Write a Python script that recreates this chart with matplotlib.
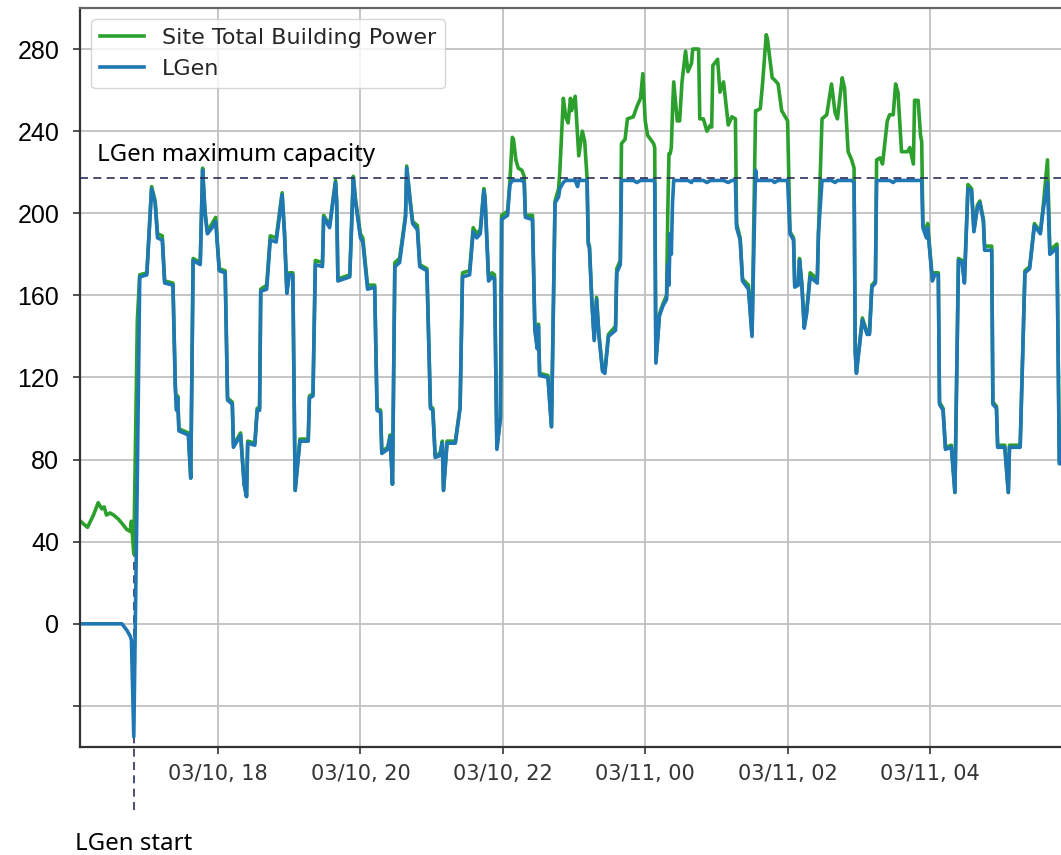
import pandas as pd
import numpy as np
import matplotlib
matplotlib.use("Agg")
import matplotlib.pyplot as plt
import matplotlib.dates as mdates

# clock times (03/10 evening -> 03/11 morning)
times = [
    "16:04", "16:10", "16:15", "16:19", "16:22", "16:24", "16:26", "16:29", "16:32", "16:36",
    "16:39", "16:43", "16:46", "16:47", "16:49", "16:52", "16:54", "17:00", "17:04", "17:07",
    "17:09", "17:13", "17:15", "17:22", "17:24", "17:25", "17:26", "17:27", "17:35", "17:37",
    "17:39", "17:45", "17:47", "17:49", "17:51", "17:55", "17:58", "18:01", "18:06", "18:08",
    "18:12", "18:13", "18:19", "18:22", "18:24", "18:25", "18:31", "18:33", "18:35", "18:36",
    "18:41", "18:44", "18:49", "18:54", "18:56", "18:58", "19:00", "19:03", "19:05", "19:09",
    "19:16", "19:17", "19:20", "19:22", "19:28", "19:29", "19:32", "19:34", "19:39", "19:40",
    "19:41", "19:51", "19:54", "19:56", "20:00", "20:02", "20:06", "20:12", "20:14", "20:17",
    "20:18", "20:23", "20:25", "20:27", "20:29", "20:33", "20:38", "20:39", "20:42", "20:44",
    "20:48", "20:50", "20:56", "20:59", "21:01", "21:03", "21:07", "21:09", "21:10", "21:13",
    "21:20", "21:24", "21:26", "21:32", "21:35", "21:38", "21:41", "21:44", "21:45", "21:48",
    "21:51", "21:53", "21:55", "21:58", "21:59", "22:04", "22:06", "22:08", "22:09", "22:11",
    "22:13", "22:16", "22:18", "22:19", "22:25", "22:27", "22:29", "22:30", "22:31", "22:38",
    "22:41", "22:44", "22:47", "22:48", "22:51", "22:53", "22:55", "22:57", "22:58", "23:01",
    "23:03", "23:04", "23:07", "23:09", "23:11", "23:12", "23:13", "23:15", "23:17", "23:19",
    "23:21", "23:24", "23:26", "23:29", "23:35", "23:36", "23:39", "23:40", "23:43", "23:45",
    "23:50", "23:53", "23:56", "23:58", "00:00", "00:02", "00:07", "00:08", "00:09", "00:12",
    "00:15", "00:18", "00:19", "00:20", "00:21", "00:22", "00:23", "00:24", "00:27", "00:29",
    "00:31", "00:34", "00:36", "00:39", "00:40", "00:45", "00:46", "00:49", "00:52", "00:55",
    "00:56", "00:57", "01:01", "01:03", "01:06", "01:10", "01:13", "01:16", "01:17", "01:20",
    "01:22", "01:27", "01:30", "01:33", "01:34", "01:37", "01:39", "01:42", "01:43", "01:47",
    "01:49", "01:52", "01:55", "02:00", "02:02", "02:05", "02:06", "02:09", "02:10", "02:12",
    "02:14", "02:16", "02:19", "02:25", "02:26", "02:29", "02:33", "02:37", "02:40", "02:42",
    "02:46", "02:48", "02:51", "02:54", "02:56", "02:57", "02:58", "03:03", "03:07", "03:09",
    "03:11", "03:14", "03:15", "03:18", "03:20", "03:24", "03:26", "03:29", "03:31", "03:33",
    "03:36", "03:41", "03:43", "03:46", "03:47", "03:50", "03:52", "03:53", "03:54", "03:57",
    "03:58", "04:02", "04:04", "04:07", "04:08", "04:11", "04:13", "04:18", "04:21", "04:24",
    "04:27", "04:29", "04:32", "04:35", "04:37", "04:40", "04:42", "04:45", "04:46", "04:52",
    "04:53", "04:56", "04:57", "05:03", "05:06", "05:07", "05:16", "05:17", "05:20", "05:24",
    "05:28", "05:33", "05:35", "05:39", "05:41", "05:47", "05:49", "05:52",
]

lgen = [
    0, 0, 0, 0, 0, 0, 0, 0, 0, 0,
    0, -3, -6, -8, -55, 73, 169, 170, 212, 205,
    188, 187, 166, 165, 115, 104, 110, 94, 92, 71,
    177, 175, 221, 200, 190, 193, 196, 172, 171, 109,
    107, 86, 92, 68, 62, 88, 87, 104, 104, 162,
    163, 187, 186, 209, 190, 161, 170, 170, 65, 89,
    89, 110, 111, 175, 174, 198, 195, 193, 215, 205,
    167, 169, 217, 205, 188, 186, 163, 164, 104, 103,
    83, 85, 91, 68, 174, 176, 198, 222, 205, 195,
    192, 174, 172, 105, 104, 81, 82, 88, 65, 88,
    88, 105, 169, 170, 191, 188, 190, 211, 207, 167,
    169, 168, 85, 100, 197, 199, 214, 216, 216, 216,
    216, 216, 215, 198, 197, 143, 134, 145, 121, 120,
    96, 205, 208, 212, 215, 216, 216, 216, 216, 216,
    213, 216, 216, 216, 216, 185, 183, 157, 138, 158,
    140, 123, 122, 140, 143, 171, 175, 216, 216, 216,
    216, 215, 216, 216, 216, 216, 216, 215, 127, 150,
    155, 158, 175, 165, 190, 180, 205, 216, 216, 216,
    216, 216, 216, 215, 216, 216, 216, 216, 215, 216,
    216, 216, 216, 216, 216, 215, 216, 216, 193, 187,
    167, 163, 140, 221, 216, 216, 216, 216, 216, 216,
    215, 216, 216, 216, 190, 187, 164, 165, 177, 165,
    144, 151, 169, 166, 190, 216, 216, 216, 215, 216,
    216, 216, 216, 216, 215, 132, 122, 148, 141, 141,
    164, 166, 216, 216, 216, 216, 216, 215, 216, 216,
    216, 216, 216, 216, 216, 216, 216, 216, 193, 188,
    193, 167, 170, 170, 107, 104, 85, 86, 64, 177,
    176, 166, 212, 211, 191, 203, 205, 196, 182, 182,
    107, 105, 86, 86, 64, 86, 86, 107, 171, 173,
    194, 190, 200, 215, 180, 183, 78, 78,
]

site_total = [
    50, 47, 53, 59, 56, 57, 53, 54, 53, 51,
    49, 46, 45, 50, 34, 148, 170, 171, 213, 206,
    190, 189, 167, 166, 116, 105, 111, 95, 93, 71,
    178, 176, 222, 201, 191, 195, 198, 173, 172, 110,
    108, 87, 93, 68, 62, 89, 88, 105, 105, 163,
    165, 189, 188, 210, 191, 162, 171, 171, 65, 90,
    90, 111, 112, 177, 176, 199, 196, 194, 216, 206,
    168, 170, 218, 206, 190, 188, 165, 165, 105, 104,
    84, 86, 92, 68, 176, 178, 199, 223, 206, 196,
    194, 175, 173, 106, 105, 82, 83, 89, 65, 89,
    89, 106, 171, 172, 193, 190, 192, 212, 208, 169,
    171, 170, 86, 101, 199, 201, 216, 237, 236, 226,
    222, 221, 218, 199, 199, 144, 135, 146, 122, 121,
    96, 206, 212, 220, 256, 247, 244, 256, 250, 257,
    238, 228, 240, 235, 217, 186, 184, 158, 139, 159,
    141, 124, 123, 141, 145, 173, 177, 234, 236, 246,
    247, 252, 256, 268, 245, 238, 234, 232, 128, 151,
    156, 160, 200, 229, 229, 232, 250, 264, 245, 245,
    264, 279, 269, 273, 280, 280, 246, 246, 240, 243,
    242, 272, 275, 259, 264, 243, 247, 246, 195, 188,
    168, 165, 141, 250, 250, 251, 264, 287, 285, 266,
    265, 263, 250, 245, 191, 188, 165, 166, 178, 166,
    145, 152, 171, 168, 191, 246, 248, 263, 249, 246,
    266, 261, 230, 226, 222, 133, 123, 149, 142, 142,
    165, 167, 226, 227, 224, 245, 248, 248, 263, 259,
    230, 230, 232, 224, 255, 255, 238, 235, 195, 190,
    195, 168, 171, 171, 108, 105, 86, 87, 64, 178,
    177, 167, 214, 212, 192, 204, 206, 197, 184, 184,
    108, 106, 87, 87, 64, 87, 87, 108, 172, 174,
    195, 191, 201, 226, 182, 185, 79, 79,
]

lgen_capacity = 217
lgen_start = "16:49"
yticks = [-40, 0, 40, 80, 120, 160, 200, 240, 280]
ytick_labels = ["", "0", "40", "80", "120", "160", "200", "240", "280"]


def to_dt(s):
    t = pd.Timestamp("2019-03-10 " + s)
    if t.hour < 12:
        t = t + pd.Timedelta(days=1)
    return t


t = [to_dt(s) for s in times]

fig = plt.figure(figsize=(10.61, 8.55), dpi=100)
ax = fig.add_axes([80 / 1061, 108 / 855, 981 / 1061, 739 / 855])

ax.plot(t, site_total, color="#2ca02c", lw=2.6, label="Site Total Building Power")
ax.plot(t, lgen, color="#1f77b4", lw=2.6, label="LGen")

ax.set_xlim(to_dt("16:03") + pd.Timedelta(seconds=40), to_dt("05:50") + pd.Timedelta(seconds=24))
ax.set_ylim(-60, 300)

ax.axhline(lgen_capacity, color="#2b2d5e", lw=1.2, ls=(0, (4.8, 3.2)), zorder=3)
ax.axvline(to_dt(lgen_start), ymin=-0.085, ymax=0.298, color="#2b2d5e", lw=1.2,
           ls=(0, (4.8, 3.2)), clip_on=False, zorder=1)

ax.text(17 / 981, 225.6, "LGen maximum capacity", family=["Noto Sans", "DejaVu Sans"],
        fontsize=17.3, color="black", va="baseline", transform=ax.get_yaxis_transform())
fig.text(75 / 1061, 5 / 855, "LGen start", family=["Noto Sans", "DejaVu Sans"],
         fontsize=17.3, color="black", va="baseline")

ax.set_yticks(yticks)
ax.set_yticklabels(ytick_labels, family="Liberation Sans", fontsize=18, color="black")
ax.xaxis.set_major_locator(mdates.HourLocator(byhour=range(0, 24, 2)))
ax.xaxis.set_major_formatter(mdates.DateFormatter("%m/%d, %H"))
for lab in ax.get_xticklabels():
    lab.set_fontsize(15)
    lab.set_color("#333333")
ax.tick_params(axis="y", length=5, width=1.2, pad=10, color="#333333")
ax.tick_params(axis="x", length=5, width=1.2, pad=7, color="#333333")

ax.grid(True, color="#c0c0c0", lw=1.3)
ax.set_axisbelow(True)
for side in ["left", "bottom"]:
    ax.spines[side].set_linewidth(1.6)
    ax.spines[side].set_color("#333333")
ax.spines["top"].set_linewidth(1.6)
ax.spines["top"].set_color("#666666")
ax.spines["right"].set_visible(False)

leg = ax.legend(loc="upper left", fontsize=16, handlelength=2.0)
for txt in leg.get_texts():
    txt.set_color("#262626")

fig.savefig("out.png", dpi=100)
